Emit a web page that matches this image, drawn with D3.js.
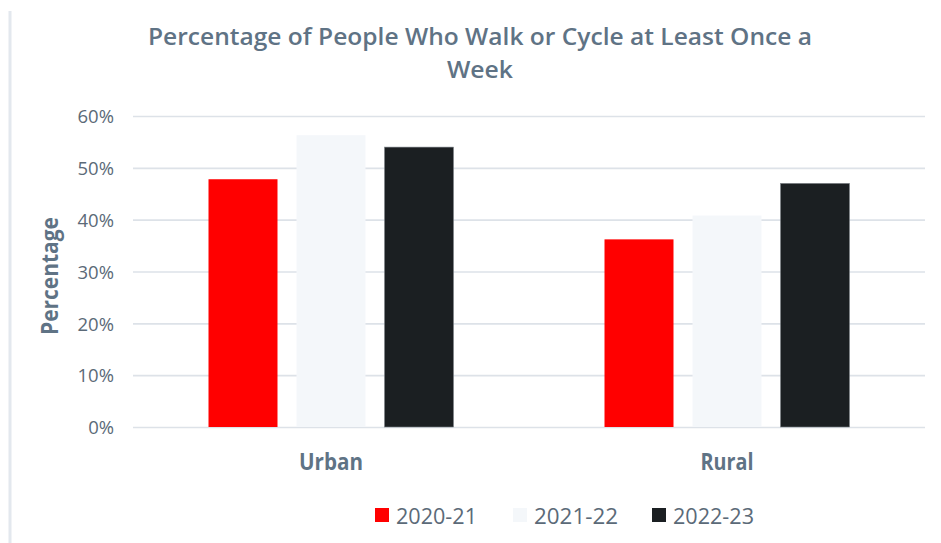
<!DOCTYPE html>
<html>
<head>
<meta charset="utf-8">
<script src="https://cdn.jsdelivr.net/npm/d3@7"></script>
<style>
  html, body { margin: 0; padding: 0; background: #ffffff; }
  svg { display: block; font-family: "Open Sans", "Noto Sans", sans-serif; }
</style>
</head>
<body>
<svg id="chart" width="941" height="543"></svg>
<script>
// ---- data ----
const categories = ["Urban", "Rural"];
const seriesNames = ["2020-21", "2021-22", "2022-23"];
const values2020_21 = [0.478, 0.362];
const values2021_22 = [0.563, 0.408];
const values2022_23 = [0.540, 0.470];
const seriesColors = ["#ff0000", "#f4f7fa", "#1b1f22"];
const yTicks = [0, 0.1, 0.2, 0.3, 0.4, 0.5, 0.6];
const titleLines = ["Percentage of People Who Walk or Cycle at Least Once a", "Week"];
const yAxisTitle = "Percentage";

const seriesValues = [values2020_21, values2021_22, values2022_23];

// ---- layout ----
const svg = d3.select("#chart");
const W = 941, H = 543;
const plot = { left: 133, right: 925, top: 116, bottom: 427 };

const textColor = "#5f7385";
const tickColor = "#5b6a78";
const gridColor = "#dde2e8";

// left frame line
svg.append("line")
  .attr("x1", 10).attr("x2", 10).attr("y1", 11).attr("y2", H)
  .attr("stroke", "#e3e8ee").attr("stroke-width", 3);

// title
const title = svg.append("text")
  .attr("text-anchor", "middle")
  .attr("fill", textColor)
  .attr("font-size", 24)
  .attr("font-weight", 600);
title.append("tspan").attr("x", 480).attr("y", 45).text(titleLines[0])
  .attr("textLength", 664).attr("lengthAdjust", "spacingAndGlyphs");
title.append("tspan").attr("x", 480).attr("y", 78).text(titleLines[1])
  .attr("textLength", 66).attr("lengthAdjust", "spacingAndGlyphs");

// scales
const y = d3.scaleLinear().domain([0, 0.6]).range([plot.bottom, plot.top]);
const x0 = d3.scaleBand().domain(categories).range([plot.left, plot.right]).padding(0);
const x1 = d3.scaleBand().domain(seriesNames).range([0, x0.bandwidth()])
  .paddingInner(0.216).paddingOuter(0.858);

// gridlines
const yAxis = d3.axisLeft(y).tickValues(yTicks).tickFormat(d3.format(".0%"))
  .tickSize(-(plot.right - plot.left)).tickPadding(19);
const gAxis = svg.append("g").attr("transform", `translate(${plot.left},0)`).call(yAxis);
gAxis.select(".domain").remove();
gAxis.selectAll(".tick line").attr("stroke", gridColor).attr("stroke-width", 1.6);
gAxis.selectAll(".tick text")
  .attr("fill", tickColor)
  .attr("font-size", 18.5)
  .attr("font-family", "'Open Sans', sans-serif")
  .attr("dy", "0.36em");

// bars
const groups = svg.append("g").selectAll("g")
  .data(categories)
  .join("g")
  .attr("transform", c => `translate(${x0(c)},0)`);

groups.selectAll("rect")
  .data((c, ci) => seriesNames.map((s, si) => ({ s, si, v: seriesValues[si][ci] })))
  .join("rect")
  .attr("x", d => x1(d.s))
  .attr("width", x1.bandwidth())
  .attr("y", d => y(d.v))
  .attr("height", d => y(0) - y(d.v))
  .attr("fill", d => seriesColors[d.si])
  .attr("stroke", d => d.si === 2 ? "#7d8388" : "none")
  .attr("stroke-width", 0.6);

// category labels
svg.append("g").selectAll("text")
  .data(categories)
  .join("text")
  .attr("x", c => x0(c) + x0.bandwidth() / 2)
  .attr("y", 470)
  .attr("text-anchor", "middle")
  .attr("fill", textColor)
  .attr("font-size", 23)
  .attr("font-weight", 700)
  .attr("textLength", c => c === "Urban" ? 64 : 53)
  .attr("lengthAdjust", "spacingAndGlyphs")
  .text(c => c);

// y axis title
svg.append("text")
  .attr("transform", "translate(58,276) rotate(-90)")
  .attr("text-anchor", "middle")
  .attr("fill", textColor)
  .attr("font-size", 23)
  .attr("font-weight", 700)
  .attr("textLength", 118)
  .attr("lengthAdjust", "spacingAndGlyphs")
  .text(yAxisTitle);

// legend
const legendX = [375, 513, 652];
const legendTextLen = [81, 84, 81];
const legend = svg.append("g").selectAll("g")
  .data(seriesNames)
  .join("g")
  .attr("transform", (d, i) => `translate(${legendX[i]},508)`);
legend.append("rect")
  .attr("width", 14).attr("height", 14)
  .attr("fill", (d, i) => seriesColors[i]);
legend.append("text")
  .attr("x", 21).attr("y", 15.5)
  .attr("fill", tickColor)
  .attr("font-size", 21)
  .attr("textLength", (d, i) => legendTextLen[i])
  .attr("lengthAdjust", "spacingAndGlyphs")
  .text(d => d);
</script>
</body>
</html>
